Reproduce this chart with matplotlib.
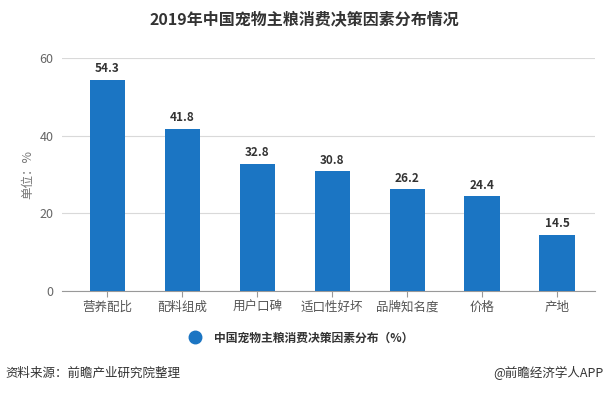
import matplotlib
matplotlib.use("Agg")
import matplotlib.pyplot as plt
from matplotlib.lines import Line2D

plt.rcParams['font.family'] = ['Noto Sans CJK SC', 'DejaVu Sans']

categories = ["营养配比", "配料组成", "用户口碑", "适口性好坏", "品牌知名度", "价格", "产地"]
values = [54.3, 41.8, 32.8, 30.8, 26.2, 24.4, 14.5]
yticks = [0, 20, 40, 60]
title = "2019年中国宠物主粮消费决策因素分布情况"
legend_label = "中国宠物主粮消费决策因素分布（%）"
ylabel = "单位：%"
source = "资料来源：前瞻产业研究院整理"
credit = "@前瞻经济学人APP"

W, H = 609, 393
fig = plt.figure(figsize=(W/100, H/100), dpi=100)
axL, axR, axT, axB = 62, 595, 58, 291
ax = fig.add_axes([axL/W, 1-axB/H, (axR-axL)/W, (axB-axT)/H])

bar_color = "#1b75c3"
x = list(range(len(categories)))
ax.bar(x, values, width=0.47, color=bar_color, zorder=3)
for xi, v in zip(x, values):
    ax.text(xi, v + 1.2, f"{v}", ha="center", va="bottom", fontsize=8.5,
            fontweight="bold", color="#333333")

ax.set_xlim(-0.607, 6.507)
ax.set_ylim(0, 60)
ax.set_yticks(yticks)
ax.set_xticks(x)
ax.set_xticklabels(categories)
ax.tick_params(axis="y", length=0, labelsize=9, colors="#666666", pad=6)
ax.tick_params(axis="x", length=4, color="#999999", labelsize=9, colors="#555555", pad=3)
ax.grid(axis="y", color="#d9d9d9", linewidth=0.8, zorder=0)
for s in ["top", "right", "left"]:
    ax.spines[s].set_visible(False)
ax.spines["bottom"].set_color("#999999")
ax.set_ylabel(ylabel, fontsize=9, color="#777777", labelpad=4)

fig.text(0.5, 1-20/H, title, ha="center", va="center", fontsize=11.5,
         fontweight="bold", color="#333333")

h = Line2D([], [], marker="o", linestyle="", markersize=9, color=bar_color)
leg = fig.legend([h], [legend_label], loc="center",
                 bbox_to_anchor=(298/W, 1-338/H),
                 frameon=False, prop={"size": 8.5, "weight": "bold"},
                 handletextpad=0.6)
for t in leg.get_texts():
    t.set_color("#333333")

fig.text(5/W, 1-373/H, source, ha="left", va="center", fontsize=9, color="#333333")
fig.text(604/W, 1-373/H, credit, ha="right", va="center", fontsize=9, color="#333333")

fig.savefig("out.png", dpi=100)
